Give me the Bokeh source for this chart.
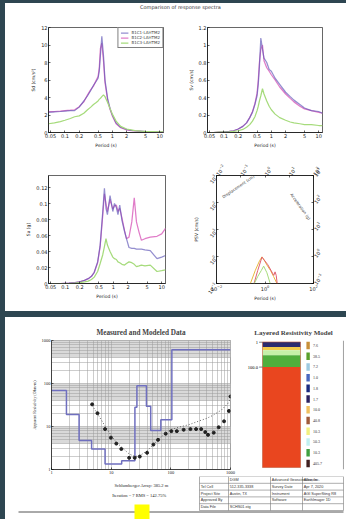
import numpy as np
from bokeh.plotting import figure
from bokeh.layouts import column, row
from bokeh.models import (Range1d, FixedTicker, Legend, LegendItem, LogAxis, Span,
                          Spacer, CustomJSTickFormatter, Label)
from bokeh.core.properties import value
from bokeh.embed import file_html
from bokeh.resources import INLINE

# ---------------- data ----------------
page_title = "Comparison of response spectra"
series_names = ["B1C1-LAHTM2", "B1C2-LAHTM2", "B1C3-LAHTM2"]
period_ticks = [0.05, 0.1, 0.2, 0.5, 1, 2, 5, 10]

periods = [0.045, 0.06, 0.08, 0.1, 0.13, 0.16, 0.2, 0.25, 0.3, 0.35, 0.4, 0.45, 0.5, 0.53,
           0.56, 0.6, 0.65, 0.7, 0.8, 0.9, 1.0, 1.2, 1.5, 2.0, 2.5, 3.0, 4.0, 5.0, 7.0, 10.0, 12.0]
sd_1 = [2.3, 2.35, 2.4, 2.45, 2.5, 2.5, 2.9, 3.6, 4.2, 4.8, 5.4, 5.8, 6.2, 7.0, 8.8, 11.0,
        8.8, 6.0, 3.8, 2.7, 2.0, 1.1, 0.6, 0.35, 0.25, 0.2, 0.15, 0.1, 0.07, 0.05, 0.04]
sd_2 = [2.4, 2.4, 2.45, 2.5, 2.55, 2.6, 2.95, 3.5, 4.3, 4.9, 5.3, 5.9, 6.4, 7.4, 9.6, 10.2,
        8.2, 5.7, 3.6, 2.6, 1.9, 1.0, 0.55, 0.3, 0.22, 0.18, 0.13, 0.09, 0.06, 0.05, 0.04]
sd_3 = [1.0, 1.1, 1.25, 1.4, 1.6, 1.8, 1.9, 2.2, 2.6, 2.9, 3.2, 3.4, 3.6, 3.8, 3.9, 4.1,
        4.3, 4.1, 3.4, 2.7, 2.1, 1.3, 0.7, 0.4, 0.3, 0.22, 0.15, 0.12, 0.1, 0.08, 0.07]

sv_1 = [0.0, 0.0, 0.005, 0.008, 0.012, 0.02, 0.04, 0.07, 0.11, 0.17, 0.23, 0.32, 0.42, 0.55,
        0.75, 1.08, 0.95, 0.85, 0.8, 0.72, 0.7, 0.62, 0.55, 0.46, 0.41, 0.37, 0.32, 0.28, 0.25, 0.24, 0.22]
sv_2 = [0.0, 0.0, 0.005, 0.008, 0.012, 0.02, 0.04, 0.07, 0.11, 0.17, 0.24, 0.33, 0.45, 0.6,
        0.8, 0.95, 1.0, 0.82, 0.74, 0.7, 0.66, 0.6, 0.52, 0.44, 0.39, 0.35, 0.3, 0.27, 0.25, 0.23, 0.22]
sv_3 = [0.0, 0.0, 0.003, 0.005, 0.008, 0.012, 0.02, 0.035, 0.06, 0.09, 0.13, 0.18, 0.25, 0.3,
        0.36, 0.42, 0.5, 0.44, 0.36, 0.3, 0.26, 0.21, 0.17, 0.14, 0.12, 0.11, 0.1, 0.09, 0.09, 0.08, 0.08]

periods_sa = [0.045, 0.08, 0.12, 0.16, 0.2, 0.25, 0.3, 0.35, 0.4, 0.47, 0.53, 0.6, 0.65, 0.7,
              0.75, 0.85, 0.97, 1.05, 1.15, 1.24, 1.35, 1.5, 1.7, 1.86, 2.1, 2.4, 2.7, 3.0,
              3.4, 3.8, 4.5, 5.8, 8.0, 10.0, 12.0]
sa_1 = [0, 0, 0.0005, 0.001, 0.002, 0.004, 0.006, 0.009, 0.014, 0.027, 0.048, 0.09, 0.119,
        0.094, 0.086, 0.11, 0.09, 0.10, 0.095, 0.086, 0.098, 0.079, 0.065, 0.056, 0.045, 0.044,
        0.044, 0.043, 0.043, 0.043, 0.042, 0.041, 0.031, 0.033, 0.035]
sa_2 = [0, 0, 0.0005, 0.001, 0.002, 0.004, 0.006, 0.009, 0.014, 0.026, 0.046, 0.085, 0.112,
        0.1, 0.09, 0.105, 0.093, 0.097, 0.098, 0.09, 0.094, 0.082, 0.066, 0.056, 0.058, 0.077,
        0.107, 0.077, 0.064, 0.054, 0.056, 0.058, 0.059, 0.062, 0.069]
sa_3 = [0, 0, 0, 0.0005, 0.001, 0.002, 0.003, 0.005, 0.008, 0.015, 0.025, 0.036, 0.046, 0.056,
        0.048, 0.04, 0.033, 0.031, 0.03, 0.027, 0.026, 0.024, 0.023, 0.025, 0.027, 0.026, 0.024,
        0.021, 0.022, 0.023, 0.022, 0.023, 0.015, 0.016, 0.017]

tri_T1 = [0.18, 0.25, 0.4, 0.6, 0.75, 0.95, 1.21, 1.7, 2.27, 3.1, 3.6]
tri_v1 = [0.05, 0.1, 0.31, 0.7, 0.97, 0.7, 0.48, 0.3, 0.18, 0.1, 0.06]
tri_T2 = [0.28, 0.32, 0.5, 0.7, 0.88, 1.2, 1.77, 2.0]
tri_v2 = [0.06, 0.08, 0.18, 0.3, 0.44, 0.25, 0.08, 0.06]
tri_T3 = [0.3, 0.5, 0.75, 1.3, 2.3, 2.6, 2.9, 3.4]
tri_v3 = [0.06, 0.3, 0.95, 0.5, 0.2, 0.27, 0.2, 0.06]

# sounding curve
model_x = [1, 1.78, 2.9, 4.7, 7.9, 15, 25, 27, 39, 46, 68, 104, 1000]
model_y = [69, 19, 4.7, 3.0, 1.35, 1.6, 28, 89, 29.5, 8.1, 14.4, 606, 606]
meas_x = [4.8, 5.9, 7.9, 9.9, 12.2, 14.8, 20, 24.8, 30.2, 40, 51, 61, 82, 102, 126, 164, 213,
          265, 323, 378, 420, 524, 634, 780, 940, 1000]
meas_y = [32.7, 20.4, 8.7, 5.5, 4.0, 3.0, 1.87, 1.87, 2.0, 2.45, 3.8, 4.9, 6.8, 7.8, 7.8, 8.4,
          8.7, 8.7, 8.7, 7.4, 6.4, 7.2, 9.6, 13.2, 23, 50]
fit_x = [4.8, 6, 8, 10, 12, 15, 20, 25, 30, 40, 50, 60, 80, 100, 150, 200, 300, 400, 500, 700, 900, 1000]
fit_y = [31, 19, 10, 6.2, 4.4, 3.3, 2.3, 2.0, 2.1, 2.7, 3.7, 4.8, 6.9, 8.5, 10, 11, 13.5, 15.5,
         18, 24, 34, 45]
decades = [1, 10, 100, 1000]

# layered model
layer_top = [0, 20, 33, 53, 100]
layer_bottom = [20, 33, 53, 100, 500]
layer_colors = ["#2b2a6e", "#f2c94a", "#c4f0a8", "#4fae3c", "#e9461f"]
depth_ticks = [1, 100]
depth_labels = ["1", "100.0"]
res_labels = ["7.6", "38.5", "7.2", "1.0", "1.8", "1.7", "10.0", "40.8", "10.3", "50.3", "10.3", "405.7"]
res_colors = ["#c8903a", "#5aa02c", "#9ecae1", "#4a68c0", "#1a2a80", "#2a2060",
              "#f0c060", "#a05a3a", "#f2f080", "#c0f0f0", "#40a040", "#402020"]

table_rows = [
    ["", "DGM", "Advanced Geosciences, Inc.", "Alliance"],
    ["Tel Cell", "512-335-3338", "Survey Date", "Apr 7, 2020"],
    ["Project Site", "Austin, TX", "Instrument", "AGI SuperSting R8"],
    ["Approved By", "", "Software", "EarthImager 1D"],
    ["Data File", "SCHS01.stg", "", ""],
]
info_lines = ["Schlumberger Array: 385.2 m", "Iteration = 7     RMS = 142.75%"]

# ---------------- styles ----------------
DARK = "#2e4651"
C1, C2, C3 = "#5b52b5", "#e07cc8", "#a6db7c"
SANS = "DejaVu Sans"
SERIF = "Liberation Serif"
WHITE = {"background-color": "white"}


def style_axes(axes, font=SANS, size="5px", lsize="4.5px"):
    for ax in axes:
        ax.major_label_text_font = font
        ax.major_label_text_font_size = size
        ax.major_label_text_color = "#222222"
        ax.axis_label_text_font = font
        ax.axis_label_text_font_size = lsize
        ax.axis_label_text_font_style = "normal"
        ax.axis_label_text_color = "#222222"
        ax.major_tick_in = 2
        ax.major_tick_out = 0
        ax.minor_tick_in = 0
        ax.minor_tick_out = 0
        ax.major_label_standoff = 1
        ax.axis_label_standoff = 2
        ax.axis_line_width = 0.6
        ax.major_tick_line_width = 0.6


def spec_fig(w, h, l, r, t, b, T, ys, ymax, yticks, ylabel, legend=False):
    p = figure(width=w, height=h, x_axis_type="log", x_range=Range1d(0.045, 12),
               y_range=Range1d(0, ymax), toolbar_location=None, output_backend="svg",
               min_border_left=l, min_border_right=r, min_border_top=t, min_border_bottom=b,
               border_fill_color="white", background_fill_color="white",
               outline_line_color="black", outline_line_width=0.6, styles=WHITE)
    p.grid.visible = False
    p.xaxis.ticker = FixedTicker(ticks=period_ticks)
    p.xaxis.formatter = CustomJSTickFormatter(code="return tick.toString()")
    p.yaxis.ticker = FixedTicker(ticks=yticks)
    p.yaxis.formatter = CustomJSTickFormatter(code="return tick.toString()")
    p.xaxis.axis_label = "Period (s)"
    p.yaxis.axis_label = ylabel
    style_axes(p.axis)
    r2 = p.line(T, ys[1], line_color=C2, line_width=1.25)
    r1 = p.line(T, ys[0], line_color=C1, line_width=1.25, line_alpha=0.65)
    r3 = p.line(T, ys[2], line_color=C3, line_width=1.25)
    if legend:
        lg = Legend(items=[LegendItem(label=series_names[0], renderers=[r1]),
                           LegendItem(label=series_names[1], renderers=[r2]),
                           LegendItem(label=series_names[2], renderers=[r3])],
                    location="top_right", label_text_font_size="4px", label_text_font=SANS,
                    glyph_width=8, glyph_height=5, label_height=5, spacing=0, padding=2,
                    margin=0, border_line_color="black", border_line_width=0.5,
                    label_standoff=3)
        p.add_layout(lg)
    return p


# title strip
pT = figure(width=341, height=14, x_range=Range1d(0, 1), y_range=Range1d(0, 1),
            toolbar_location=None, output_backend="svg", x_axis_location=None,
            y_axis_location=None, min_border=0, outline_line_color=None,
            border_fill_color="white", background_fill_color="white", styles=WHITE)
pT.grid.visible = False
pT.add_layout(Label(x=0.513, y=0.78, text=page_title, text_font=SANS, text_font_size="5px",
                    text_align="center", text_baseline="middle", text_color="#333333"))

pA = spec_fig(180, 133, 43, 22, 10, 15, periods, [sd_1, sd_2, sd_3], 12,
              [0, 2, 4, 6, 8, 10, 12], "Sd (cm/s²)", legend=True)
pB = spec_fig(161, 133, 19, 24, 10, 15, periods, [sv_1, sv_2, sv_3], 1.2,
              [0, 0.2, 0.4, 0.6, 0.8, 1, 1.2], "Sv (cm/s)")
pC = spec_fig(180, 161, 43, 20, 25, 28, periods_sa, [sa_1, sa_2, sa_3], 0.135,
              [0, 0.02, 0.04, 0.06, 0.08, 0.1, 0.12], "Sa (g)")

# tripartite
pD = figure(width=161, height=161, x_axis_type="log", y_axis_type="log",
            x_range=Range1d(0.01, 100), y_range=Range1d(0.1, 1000), toolbar_location=None,
            output_backend="svg", min_border_left=31, min_border_right=33, min_border_top=25,
            min_border_bottom=28, border_fill_color="white", background_fill_color="white",
            outline_line_color="black", outline_line_width=0.6, styles=WHITE)
pD.grid.visible = False
pD.xaxis.ticker = FixedTicker(ticks=[0.01, 1, 100])
pD.yaxis.ticker = FixedTicker(ticks=[0.1, 1, 10, 100, 1000])
pD.xaxis.axis_label = "Period (s)"
pD.yaxis.axis_label = "PSV (cm/s)"
pD.yaxis.major_label_orientation = 0.9
ax_top = LogAxis(ticker=FixedTicker(ticks=[0.01, 0.1, 1, 10, 100]), major_label_orientation=0.9)
ax_right = LogAxis(ticker=FixedTicker(ticks=[0.1, 1, 10, 100, 1000]), major_label_orientation=0.9)
pD.add_layout(ax_top, "above")
pD.add_layout(ax_right, "right")
style_axes(pD.axis)
pD.line(tri_T1, tri_v1, line_color="#e8b840", line_width=1)
pD.line(tri_T3, tri_v3, line_color="#e06070", line_width=1)
pD.line(tri_T2, tri_v2, line_color=C3, line_width=1)
pD.add_layout(Label(x=0.08, y=390, text="Displacement (cm)", angle=0.6, text_font=SANS,
                    text_font_size="4px", text_align="center", text_baseline="middle"))
pD.add_layout(Label(x=29, y=71, text="Acceleration (g)", angle=-0.95, text_font=SANS,
                    text_font_size="4px", text_align="center", text_baseline="middle"))

# measured and modeled data
pE = figure(width=235, height=159, x_axis_type="log", y_axis_type="log",
            x_range=Range1d(1, 1000), y_range=Range1d(1, 1000), toolbar_location=None,
            output_backend="svg", min_border_left=46, min_border_right=10, min_border_top=23,
            min_border_bottom=7, border_fill_color="white", background_fill_color="white",
            outline_line_color="#666666", outline_line_width=0.6,
            title="Measured and Modeled Data", styles=WHITE)
pE.title.align = "center"
pE.title.text_font = SERIF
pE.title.text_font_size = "7.2px"
pE.title.text_font_style = "bold"
pE.title.standoff = 7
minor_pos = [m * d for d in decades[:-1] for m in range(1, 10)] + [1000]
pE.xgrid.ticker = FixedTicker(ticks=minor_pos)
pE.ygrid.ticker = FixedTicker(ticks=minor_pos)
pE.grid.grid_line_color = "#9a9a9a"
pE.grid.grid_line_width = 0.5
pE.quad(left=1, right=1000, bottom=[0.4 * d for d in decades[1:]], top=decades[1:],
        fill_color="#d9d9d9", line_color=None, level="image")
pE.xaxis.ticker = FixedTicker(ticks=decades)
pE.yaxis.ticker = FixedTicker(ticks=decades)
pE.xaxis.formatter = CustomJSTickFormatter(code="return tick.toString()")
pE.yaxis.formatter = CustomJSTickFormatter(code="return tick.toString()")
pE.yaxis.axis_label = "Apparent Resistivity (Ohm-m)"
style_axes(pE.axis, font=SERIF, size="4.5px", lsize="4px")
pE.step(model_x, model_y, mode="after", line_color="#6f6fbf", line_width=1.5)
pE.line(fit_x, fit_y, line_color="#555555", line_width=0.9, line_dash="1 2")
pE.scatter(meas_x, meas_y, size=3, fill_color="#222222", line_color="#222222")

# layered resistivity model
pF = figure(width=106, height=159, x_range=Range1d(-0.579, 2.21), y_range=Range1d(507.9, -5.9),
            toolbar_location=None, output_backend="svg", x_axis_location=None,
            y_axis_location=None, min_border_left=0, min_border_right=0, min_border_top=23,
            min_border_bottom=6, border_fill_color="white", background_fill_color="white",
            outline_line_color=None, title="Layered Resistivity Model", styles=WHITE)
pF.grid.visible = False
pF.title.align = "center"
pF.title.text_font = SERIF
pF.title.text_font_size = "7px"
pF.title.text_font_style = "bold"
pF.title.standoff = 7
pF.quad(left=0, right=1, top=layer_top, bottom=layer_bottom, fill_color=layer_colors,
        line_color=None)
pF.quad(left=0, right=1, top=layer_top[0], bottom=layer_bottom[-1], fill_color=None,
        line_color="#c05a3a", line_width=0.6)
pF.text(x=[-0.12] * len(depth_ticks), y=depth_ticks, text=depth_labels, text_font=value(SERIF),
        text_font_size="4.5px", text_align="right", text_baseline="middle")
pF.segment(x0=[-0.09] * len(depth_ticks), x1=[0] * len(depth_ticks), y0=depth_ticks,
           y1=depth_ticks, line_color="#333333", line_width=0.6)
sw_y = [14 + i * 42.7 for i in range(len(res_labels))]
pF.rect(x=[1.2] * len(res_labels), y=sw_y, width=0.09, height=30, fill_color=res_colors,
        line_color=None)
pF.text(x=[1.33] * len(res_labels), y=sw_y, text=res_labels, text_font=value(SERIF),
        text_font_size="4px", text_align="left", text_baseline="middle", text_color="#333333")
pF.add_layout(Span(location=2.13, dimension="height", line_color="#888888", line_width=0.8))

# bottom strip: info text, title block table, page line
pG = figure(width=341, height=43, x_range=Range1d(0, 341), y_range=Range1d(43, 0),
            toolbar_location=None, output_backend="svg", x_axis_location=None,
            y_axis_location=None, min_border=0, outline_line_color=None,
            border_fill_color="white", background_fill_color="white", styles=WHITE)
pG.grid.visible = False
pG.text(x=[136, 136], y=[8.5, 19], text=info_lines, text_font=value(SERIF),
        text_font_size="4.5px", text_align="center", text_baseline="middle", text_color="#222222")
col_x = [194, 223, 265, 297, 338]
row_h = 6.8
n_rows = len(table_rows)
pG.segment(x0=[col_x[0]] * (n_rows + 1), x1=[col_x[-1]] * (n_rows + 1),
           y0=[i * row_h for i in range(n_rows + 1)], y1=[i * row_h for i in range(n_rows + 1)],
           line_color="#777777", line_width=0.6)
pG.segment(x0=col_x, x1=col_x, y0=[0] * len(col_x), y1=[n_rows * row_h] * len(col_x),
           line_color="#777777", line_width=0.6)
tx, ty, tt = [], [], []
for i, r_ in enumerate(table_rows):
    for j, cell in enumerate(r_):
        if cell:
            tx.append(col_x[j] + 1.2)
            ty.append(i * row_h + row_h / 2)
            tt.append(cell)
pG.text(x=tx, y=ty, text=tt, text_font=value("Liberation Sans"), text_font_size="3.8px",
        text_align="left", text_baseline="middle", text_color="#333333")
pG.segment(x0=[13], x1=[338], y0=[35.5], y1=[35.5], line_color="#555555", line_width=1)
pG.rect(x=[136.5], y=[35.5], width=15, height=15, fill_color="#ffff00", line_color=None)

# ---------------- page ----------------
left_bar = Spacer(width=5, height=519, styles={"background-color": DARK})
top_bar = Spacer(width=341, height=3, styles={"background-color": DARK})
sep = Spacer(width=341, height=6, styles={"background-color": DARK})
row1 = row(pA, pB, styles=WHITE)
row2 = row(pC, pD, styles=WHITE)
row3 = row(pE, pF, styles=WHITE)
main = column(top_bar, pT, row1, row2, sep, row3, pG, styles=WHITE)
page = row(left_bar, main, styles={"background-color": DARK})

open("out.html", "w").write(file_html(page, INLINE))
